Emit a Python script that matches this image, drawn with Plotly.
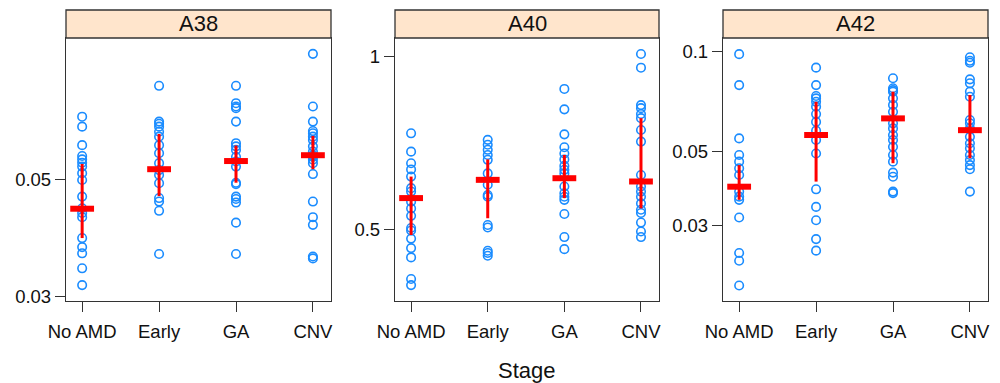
import plotly.graph_objects as go
import math

stages = ["No AMD", "Early", "GA", "CNV"]
panels = ["A38", "A40", "A42"]

# ---- A38 ----
a38_noamd = [0.0659, 0.0631, 0.0582, 0.0555, 0.0547, 0.0539, 0.0530, 0.0515, 0.0500, 0.0465,
             0.0442, 0.0433, 0.0425, 0.0388, 0.0373, 0.0363, 0.0340, 0.0316]
a38_early = [0.0754, 0.0645, 0.0639, 0.0631, 0.0617, 0.0604, 0.0582, 0.0562, 0.0538, 0.0522,
             0.0511, 0.0493, 0.0462, 0.0455, 0.0437, 0.0362]
a38_ga = [0.0754, 0.0699, 0.0689, 0.0684, 0.0645, 0.0587, 0.0579, 0.0570, 0.0553, 0.0542,
          0.0530, 0.0494, 0.0491, 0.0465, 0.0460, 0.0453, 0.0415, 0.0362]
a38_cnv = [0.0867, 0.0689, 0.0645, 0.0619, 0.0613, 0.0604, 0.0595, 0.0579, 0.0566, 0.0557,
           0.0553, 0.0546, 0.0538, 0.0513, 0.0455, 0.0425, 0.0411, 0.0358, 0.0355]
a38_mean = [0.0441, 0.0524, 0.0543, 0.0557]
a38_low = [0.0388, 0.0466, 0.0494, 0.0524]
a38_high = [0.0536, 0.0611, 0.0581, 0.0606]

# ---- A40 ----
a40_noamd = [0.736, 0.684, 0.653, 0.637, 0.619, 0.591, 0.583, 0.560, 0.545, 0.529, 0.504,
             0.499, 0.483, 0.465, 0.448, 0.411, 0.401]
a40_early = [0.717, 0.703, 0.689, 0.675, 0.662, 0.627, 0.599, 0.575, 0.571, 0.510, 0.505,
             0.460, 0.456, 0.451]
a40_ga = [0.879, 0.810, 0.733, 0.696, 0.679, 0.663, 0.646, 0.636, 0.627, 0.595, 0.579,
          0.571, 0.564, 0.533, 0.486, 0.463]
a40_cnv = [1.011, 0.957, 0.824, 0.814, 0.795, 0.782, 0.746, 0.712, 0.623, 0.595, 0.583,
           0.571, 0.556, 0.542, 0.535, 0.515, 0.497, 0.486]
a40_mean = [0.568, 0.611, 0.615, 0.607]
a40_low = [0.490, 0.524, 0.568, 0.545]
a40_high = [0.619, 0.663, 0.675, 0.782]

# ---- A42 ----
a42_noamd = [0.0979, 0.0791, 0.0548, 0.0489, 0.0467, 0.0446, 0.0426, 0.0380, 0.0367, 0.0359,
             0.0318, 0.0249, 0.0236, 0.0199]
a42_early = [0.0892, 0.0791, 0.0734, 0.0722, 0.0705, 0.0682, 0.0648, 0.0614, 0.0578, 0.0542,
             0.0494, 0.0386, 0.0342, 0.0312, 0.0274, 0.0253]
a42_ga = [0.0829, 0.0774, 0.0764, 0.0756, 0.0722, 0.0690, 0.0658, 0.0608, 0.0587, 0.0561,
          0.0542, 0.0517, 0.0489, 0.0467, 0.0433, 0.0421, 0.0380, 0.0376]
a42_cnv = [0.0958, 0.0935, 0.0923, 0.0823, 0.0801, 0.0756, 0.0730, 0.0622, 0.0608, 0.0587,
           0.0554, 0.0530, 0.0512, 0.0489, 0.0472, 0.0456, 0.0443, 0.0380]
a42_mean = [0.0393, 0.0561, 0.0629, 0.0580]
a42_low = [0.0359, 0.0407, 0.0462, 0.0478]
a42_high = [0.0456, 0.0705, 0.0756, 0.0739]

a38_ticks = [0.03, 0.05]
a40_ticks = [0.5, 1]
a42_ticks = [0.03, 0.05, 0.1]
a38_ticktext = ["0.03", "0.05"]
a40_ticktext = ["0.5", "1"]
a42_ticktext = ["0.03", "0.05", "0.1"]

a38_range = [0.02948, 0.0929]
a40_range = [0.3763, 1.0777]
a42_range = [0.01789, 0.1094]

points = [
    [a38_noamd, a38_early, a38_ga, a38_cnv],
    [a40_noamd, a40_early, a40_ga, a40_cnv],
    [a42_noamd, a42_early, a42_ga, a42_cnv],
]
means = [a38_mean, a40_mean, a42_mean]
lows = [a38_low, a40_low, a42_low]
highs = [a38_high, a40_high, a42_high]
ticks = [a38_ticks, a40_ticks, a42_ticks]
ticktexts = [a38_ticktext, a40_ticktext, a42_ticktext]
ranges = [a38_range, a40_range, a42_range]

W, H = 1000, 383
OFF = 8  # page body margin compensation
x_doms = [(66 - OFF, 331 - OFF), (395 - OFF, 659 - OFF), (723 - OFF, 988 - OFF)]
y_top, y_bot, strip_top = 38 - OFF, 301 - OFF, 10 - OFF

BLUE = "#1a8cff"
RED = "#ff0000"
FONT = "Liberation Sans, Arial, sans-serif"
LINE = "#333333"

fig = go.Figure()
layout = dict(
    width=W, height=H,
    margin=dict(l=0, r=0, t=0, b=0, autoexpand=False),
    paper_bgcolor="white", plot_bgcolor="white",
    showlegend=False,
    font=dict(family=FONT, size=18, color="#111"),
)
shapes = []
annotations = []

for i in range(3):
    sfx = "" if i == 0 else str(i + 1)
    xa, ya = "x" + sfx, "y" + sfx
    for j, st in enumerate(stages):
        vals = points[i][j]
        fig.add_trace(go.Scatter(
            x=[st] * len(vals), y=vals, mode="markers", xaxis=xa, yaxis=ya,
            marker=dict(symbol="circle-open", size=8.5, color=BLUE, line=dict(width=1.6, color=BLUE)),
            hoverinfo="y",
        ))
    em = [h - m for h, m in zip(highs[i], means[i])]
    eminus = [m - l for m, l in zip(means[i], lows[i])]
    fig.add_trace(go.Scatter(
        x=stages, y=means[i], mode="markers", xaxis=xa, yaxis=ya,
        error_y=dict(type="data", symmetric=False, array=em, arrayminus=eminus,
                     color=RED, thickness=3, width=0),
        marker=dict(symbol="line-ew", size=17, color=RED, line=dict(width=6, color=RED)),
    ))
    x0, x1 = x_doms[i]
    layout["xaxis" + sfx] = dict(
        domain=[x0 / W, x1 / W], anchor=ya, automargin=False,
        type="category", categoryorder="array", categoryarray=stages,
        range=[-0.21, 3.235],
        showline=True, linecolor=LINE, linewidth=1.3, mirror=True,
        ticks="outside", ticklen=10, tickwidth=1.3, tickcolor=LINE,
        showgrid=False, zeroline=False, ticklabelstandoff=4,
        tickfont=dict(size=18.5, family=FONT, color="#111"),
    )
    layout["yaxis" + sfx] = dict(
        domain=[1 - y_bot / H, 1 - y_top / H], anchor=xa, automargin=False,
        type="log", range=[math.log10(ranges[i][0]), math.log10(ranges[i][1])],
        tickvals=ticks[i], ticktext=ticktexts[i],
        showline=True, linecolor=LINE, linewidth=1.3, mirror=True,
        ticks="outside", ticklen=10, tickwidth=1.3, tickcolor=LINE,
        showgrid=False, zeroline=False,
        tickfont=dict(size=18.5, family=FONT, color="#111"),
    )
    shapes.append(dict(
        type="rect", xref="paper", yref="paper",
        x0=x0 / W, x1=x1 / W, y0=1 - y_top / H, y1=1 - strip_top / H,
        fillcolor="#ffe5cc", line=dict(color=LINE, width=1.3), layer="above",
    ))
    annotations.append(dict(
        text=panels[i], xref="paper", yref="paper",
        x=(x0 + x1) / 2 / W, y=1 - (y_top + strip_top) / 2 / H,
        xanchor="center", yanchor="middle", showarrow=False,
        font=dict(size=22, family=FONT, color="#111"),
    ))

annotations.append(dict(
    text="Stage", xref="paper", yref="paper", x=(527 - OFF) / W, y=1 - (370 - OFF) / H,
    xanchor="center", yanchor="middle", showarrow=False,
    font=dict(size=22, family=FONT, color="#111"),
))
layout["shapes"] = shapes
layout["annotations"] = annotations
fig.update_layout(**layout)
fig.write_html("out.html")
